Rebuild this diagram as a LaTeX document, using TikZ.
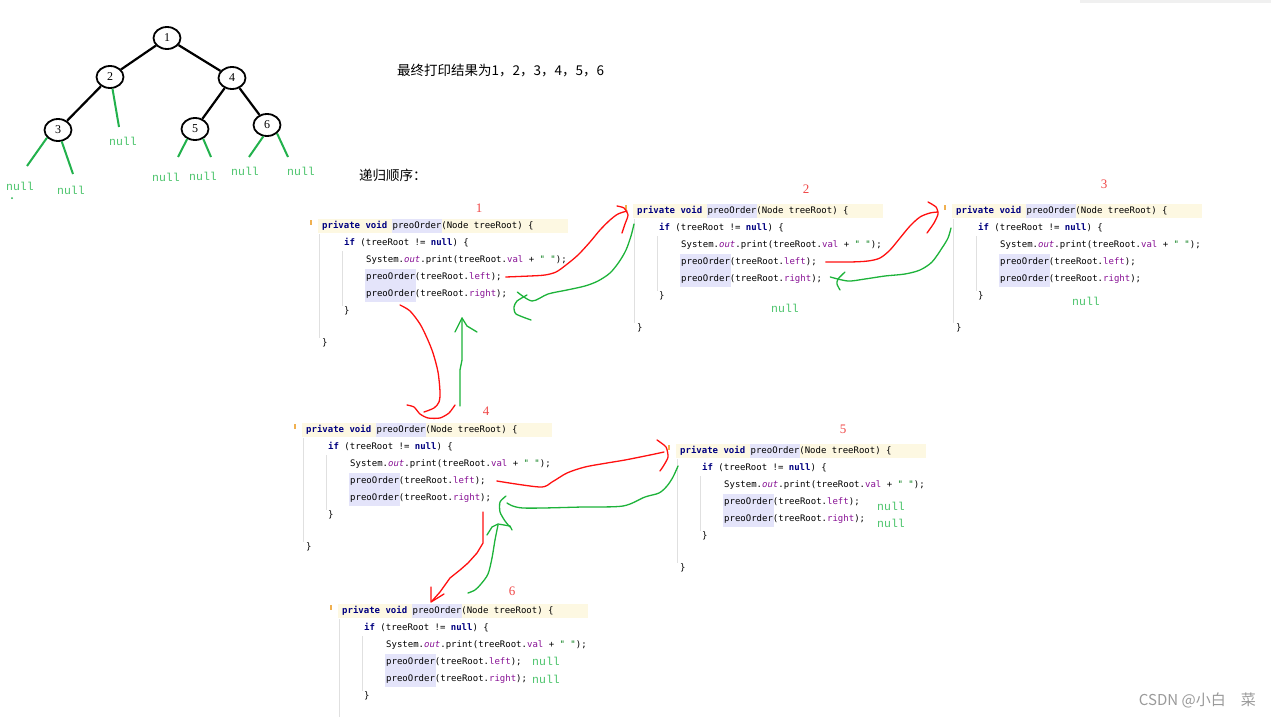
\documentclass[tikz,border=0pt]{standalone}
\usepackage{fontspec}
\setmainfont{Liberation Serif}
\setmonofont{DejaVu Sans Mono}
\newfontfamily\cjk{Noto Sans CJK SC}
\newfontfamily\nulltxtfont{Liberation Mono}
\usetikzlibrary{shapes.geometric,calc}
\definecolor{kwc}{HTML}{000080}
\definecolor{fldc}{HTML}{871094}
\definecolor{strc}{HTML}{067D17}
\definecolor{hdrc}{HTML}{FDF8E2}
\definecolor{hlc}{HTML}{E4E4FA}
\definecolor{guidec}{HTML}{E0E0E0}
\definecolor{penred}{HTML}{FF1010}
\definecolor{pengreen}{HTML}{1DB33A}
\definecolor{treegreen}{HTML}{22B14C}
\definecolor{nullc}{HTML}{4CC46C}
\definecolor{numred}{HTML}{F04848}
\definecolor{tickc}{HTML}{F0B050}
\definecolor{wmc}{HTML}{9A9A9A}
\newcommand\kw[1]{{\bfseries\color{kwc}#1}}
\newcommand\fld[1]{{\color{fldc}#1}}
\newcommand\fitl[1]{{\itshape\color{fldc}#1}}
\newcommand\strl[1]{{\color{strc}#1}}
\tikzset{
  code/.style={anchor=west, inner sep=0pt, font=\ttfamily\fontsize{9}{10}\selectfont, text height=7pt, text depth=2pt},
  tn/.style={ellipse, draw, line width=1.8pt, minimum width=27pt, minimum height=22pt, inner sep=0pt, font=\fontsize{12}{12}\selectfont},
  tedge/.style={line width=2.2pt},
  gedge/.style={treegreen, line width=2pt},
  nulltxt/.style={inner sep=0pt, text=nullc, font=\nulltxtfont\fontsize{11.5}{12}\selectfont},
  numtxt/.style={inner sep=0pt, text=numred, font=\fontsize{13}{13}\selectfont},
  redpen/.style={penred, line width=1.3pt, line cap=round, line join=round},
  greenpen/.style={pengreen, line width=1.3pt, line cap=round, line join=round},
  cjktxt/.style={anchor=west, inner sep=0pt, font=\cjk\fontsize{13.5}{14}\selectfont}
}
\newcommand\codeblk[3]{%
\begin{scope}[shift={(#2,#3)}]
  \fill[hdrc] (-4,-7) rectangle (246,7);
  \fill[hlc] (69.5,-7) rectangle (119.5,7);
  \fill[hlc] (43,43) rectangle (93.5,76);
  \draw[tickc, line width=1.2pt] (-11,-6) -- (-11,-1);
  \draw[guidec, line width=0.8pt] (-3,8) -- (-3,112);
  \draw[guidec, line width=0.8pt] (20,25) -- (20,80);
  \node[code] (#1h) at (0,0) {\kw{private} \kw{void} preoOrder(Node treeRoot) \{};
  \node[code] (#1i) at (22,17) {\kw{if} (treeRoot != \kw{null}) \{};
  \node[code] (#1s) at (44,34) {System.\fitl{out}.print(treeRoot.\fld{val} + \strl{" "});};
  \node[code] (#1l) at (44,51) {preoOrder(treeRoot.\fld{left});};
  \node[code] (#1r) at (44,68) {preoOrder(treeRoot.\fld{right});};
  \node[code] (#1c) at (22,85) {\}};
\end{scope}}
\begin{document}
\begin{tikzpicture}[x=1pt,y=-1pt]
\useasboundingbox (0,0) rectangle (1271,717);
\fill[white] (0,0) rectangle (1271,717);
\fill[gray!12] (1080,0) rectangle (1271,3);

% ---------- tree ----------
\node[tn] (n1) at (167,38) {1};
\node[tn] (n2) at (110,77) {2};
\node[tn] (n4) at (232,78) {4};
\node[tn] (n3) at (58,130) {3};
\node[tn] (n5) at (195,129) {5};
\node[tn] (n6) at (267,125) {6};
\draw[tedge] (n1) -- (n2);
\draw[tedge] (n1) -- (n4);
\draw[tedge] (n2) -- (n3);
\draw[tedge] (n4) -- (n5);
\draw[tedge] (n4) -- (n6);
\coordinate (c2) at (119,127);
\coordinate (c3a) at (27,166);
\coordinate (c3b) at (73,174);
\coordinate (c5a) at (178,157);
\coordinate (c5b) at (211,157);
\coordinate (c6a) at (249,157);
\coordinate (c6b) at (288,157);
\draw[gedge] (n2.-78) -- (c2);
\draw[gedge] (n3.215) -- (c3a);
\draw[gedge] (n3.-72) -- (c3b);
\draw[gedge] (n5.232) -- (c5a);
\draw[gedge] (n5.-50) -- (c5b);
\draw[gedge] (n6.-108) -- (c6a);
\draw[gedge] (n6.-40) -- (c6b);
\node[nulltxt] (t2) at (123,141) {null};
\node[nulltxt] (t3a) at (20,186) {null};
\node[nulltxt] (t3b) at (71,190) {null};
\node[nulltxt] (t5a) at (166,177) {null};
\node[nulltxt] (t5b) at (203,176) {null};
\node[nulltxt] (t6a) at (245,171) {null};
\node[nulltxt] (t6b) at (301,171) {null};
\fill[treegreen] (12,198) circle (1);

% ---------- texts ----------
\node[cjktxt] (res) at (397,71) {最终打印结果为1，2，3，4，5，6};
\node[cjktxt] (ord) at (359,175) {递归顺序：};

% ---------- code blocks ----------
\codeblk{b1}{322}{226}
\codeblk{b2}{637}{211}
\codeblk{b3}{956}{211}
\codeblk{b4}{306}{430}
\codeblk{b5}{680}{451}
\codeblk{b6}{342}{611}
\node[code] (b1e) at (322,343) {\}};
\node[code] (b2e) at (637,328) {\}};
\node[code] (b3e) at (956,328) {\}};
\node[code] (b4e) at (306,547) {\}};
\node[code] (b5e) at (680,568) {\}};
\draw[guidec, line width=0.8pt] (339,700) -- (339,717);

\node[numtxt] (k1) at (479,208) {1};
\node[numtxt] (k2) at (806,189) {2};
\node[numtxt] (k3) at (1104,184) {3};
\node[numtxt] (k4) at (486,411) {4};
\node[numtxt] (k5) at (843,429) {5};
\node[numtxt] (k6) at (512,591) {6};

\node[nulltxt] (z2) at (785,308) {null};
\node[nulltxt] (z3) at (1086,301) {null};
\node[nulltxt] (z5a) at (891,506) {null};
\node[nulltxt] (z5b) at (891,523) {null};
\node[nulltxt] (z6a) at (546,661) {null};
\node[nulltxt] (z6b) at (546,679) {null};

% ---------- hand drawn arrows ----------
\coordinate (sA) at ($(b1l.east)+(4,0)$);
\coordinate (eA) at (627,211);
\draw[redpen] plot[smooth, tension=0.5] coordinates {(sA) (530,276) (545,275) (556,272) (566,265) (578,255) (590,242) (600,230) (610,220) (618,214) (eA)};
\draw[redpen] plot[smooth, tension=0.4] coordinates {(617,206) (624,208) (628,215) (625,224) (622,233)};

\coordinate (sB) at (634,224);
\coordinate (eB) at ($(b1r.east)+(10,-2)$);
\draw[greenpen] plot[smooth, tension=0.5] coordinates {(sB) (631,236) (626,250) (619,262) (610,273) (598,281) (585,286) (567,290) (548,294) (532,301) (eB)};
\draw[greenpen] plot[smooth, tension=0.4] coordinates {(527,295) (517,301) (514,307) (516,314) (531,320)};

\coordinate (sC) at ($(b2l.east)+(9,0)$);
\coordinate (eC) at (938,212);
\draw[redpen] plot[smooth, tension=0.5] coordinates {(sC) (850,262) (868,261) (880,258) (890,250) (900,238) (910,226) (920,217) (930,213) (eC)};
\draw[redpen] plot[smooth, tension=0.4] coordinates {(928,202) (936,207) (938,214) (934,223) (927,233)};

\coordinate (sD) at (951,228);
\coordinate (eD) at ($(b2r.east)+(8,-2)$);
\draw[greenpen] plot[smooth, tension=0.5] coordinates {(sD) (948,238) (942,248) (932,262) (920,270) (905,274) (885,276) (865,279) (848,281) (eD)};
\draw[greenpen] plot[smooth, tension=0.4] coordinates {(845,272) (838,279) (837,284) (840,290)};

\coordinate (sE) at (400,305);
\coordinate (eE) at (424,412);
\draw[redpen] plot[smooth, tension=0.5] coordinates {(sE) (410,311) (420,324) (427,338) (433,353) (438,372) (440,392) (439,402) (434,408) (eE)};
\draw[redpen] plot[smooth, tension=0.4] coordinates {(407,405) (414,407) (420,414) (428,418) (440,418) (449,413) (455,405)};

\coordinate (sF) at (460,406);
\coordinate (eF) at (462,318);
\draw[greenpen] (sF) -- (460,370) -- (462,360) -- (eF);
\draw[greenpen] (455,332) -- (462,318) -- (467,326) -- (477,332);

\coordinate (sG) at ($(b4l.east)+(11,0)$);
\coordinate (eG) at (664,452);
\draw[redpen] plot[smooth, tension=0.5] coordinates {(sG) (540,487) (552,482) (567,473) (585,467) (607,463) (625,460) (650,455) (eG)};
\draw[redpen] plot[smooth, tension=0.4] coordinates {(657,440) (666,447) (668,457) (664,465) (660,471)};

\coordinate (sH) at (678,466);
\coordinate (eH) at (507,503);
\draw[greenpen] plot[smooth, tension=0.5] coordinates {(sH) (673,477) (667,486) (659,493) (645,497) (623,506) (583,507) (523,508) (eH)};
\draw[greenpen] plot[smooth, tension=0.4] coordinates {(506,496) (500,502) (500,512) (505,521) (510,527)};

\coordinate (sI) at (483,512);
\coordinate (eI) at (432,601);
\draw[redpen] (sI) -- (483,543) -- (477,553) -- (468,563) -- (460,570) -- (450,578) -- (440,592) -- (eI);
\draw[redpen] (431,587) -- (431,602) -- (444,594);

\coordinate (sJ) at (468,593);
\coordinate (eJ) at (498,525);
\draw[greenpen] plot[smooth, tension=0.5] coordinates {(sJ) (475,590) (481,584) (488,574) (492,558) (495,540) (eJ)};
\draw[greenpen] (487,535) -- (492,527) -- (498,524) -- (510,526) -- (512,530);

% ---------- watermark ----------
\node[anchor=east, inner sep=0pt, text=wmc, font=\cjk\fontsize{15}{16}\selectfont] (wm) at (1256,700) {CSDN @小白\hspace{1em}菜};
\end{tikzpicture}
\end{document}
